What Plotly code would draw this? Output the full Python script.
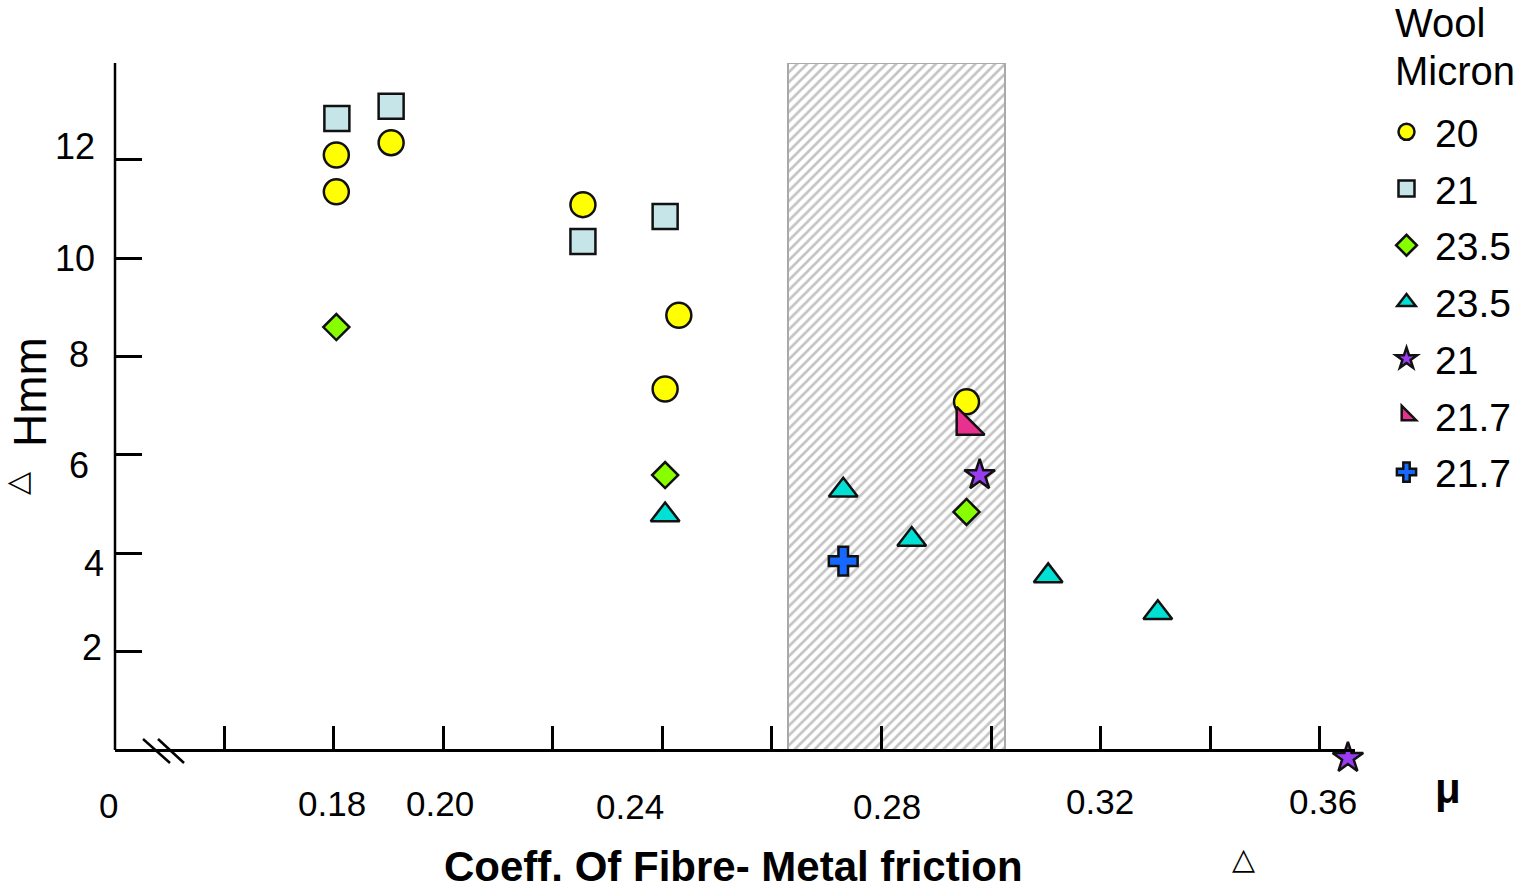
import plotly.graph_objects as go

W, H = 1517, 894

# ---------------- data ----------------
series_names = ["20", "21", "23.5", "23.5", "21", "21.7", "21.7"]

mic20_x = [0.1805, 0.1805, 0.1905, 0.2255, 0.2430, 0.2405, 0.2955]
mic20_y = [12.10, 11.35, 12.35, 11.09, 8.84, 7.34, 7.08]

mic21_sq_x = [0.1806, 0.1905, 0.2255, 0.2405]
mic21_sq_y = [12.84, 13.09, 10.34, 10.85]

mic235_dia_x = [0.1805, 0.2405, 0.2955]
mic235_dia_y = [8.60, 5.59, 4.84]

mic235_tri_x = [0.2405, 0.2730, 0.2855, 0.3104, 0.3304]
mic235_tri_y = [4.78, 5.28, 4.28, 3.54, 2.79]

mic21_star_x = [0.2979, 0.3651]
mic21_star_y = [5.59, -0.16]

mic217_rt_x = [0.2954]
mic217_rt_y = [6.60]

mic217_cross_x = [0.2730]
mic217_cross_y = [3.84]

band_x = [0.2629, 0.3025]      # shaded optimum range of mu
band_y_top = 13.97

x_range = [0.14011, 0.36639]
y_range = [-0.5, 13.97]
x_tick_vals = [0.16, 0.18, 0.20, 0.22, 0.24, 0.26, 0.28, 0.30, 0.32, 0.34, 0.36]
y_tick_vals = [2, 4, 6, 8, 10, 12]
x_tick_labels = ["0", "0.18", "0.20", "0.24", "0.28", "0.32", "0.36"]
y_tick_labels = ["12", "10", "8", "6", "4", "2"]

x_title = "Coeff. Of Fibre- Metal friction"
y_title = "Hmm"
legend_title_lines = ["Wool", "Micron"]

# ---------------- layout helpers ----------------
def px(x):
    return x / W


def py(y):
    return 1 - y / H


FONT = "Liberation Sans, Arial, sans-serif"
EDGE = "#111111"

# plot area in pixels: y=0 at 750, y=13.97 at 63
Y0_PX, YTOP_PX = 750, 63
px_per_unit = (Y0_PX - YTOP_PX) / band_y_top
y_dom_bottom_px = Y0_PX - y_range[0] * px_per_unit

fig = go.Figure()

# shaded band (hatched)
fig.add_trace(go.Bar(
    x=[(band_x[0] + band_x[1]) / 2], y=[band_y_top], base=0,
    width=[band_x[1] - band_x[0]],
    marker=dict(color="white", line=dict(color="#a9a9a9", width=2),
                pattern=dict(shape="/", fgcolor="#8a8a8a", bgcolor="white",
                             size=7, solidity=0.38)),
    showlegend=False, hoverinfo="skip",
))

specs = [
    (mic20_x, mic20_y, "circle", 25, "#ffff00"),
    (mic21_sq_x, mic21_sq_y, "square", 25, "#c6e5e8"),
    (mic235_dia_x, mic235_dia_y, "diamond", 20, "#88ff00"),
    (mic235_tri_x, mic235_tri_y, "triangle-up", 25, "#00e0d4"),
    (mic21_star_x, mic21_star_y, "star", 23, "#9a3cf0"),
    (mic217_rt_x, mic217_rt_y, "triangle-sw", 31, "#e8308e"),
    (mic217_cross_x, mic217_cross_y, "cross", 24, "#1668ff"),
]
for i, (xs, ys, sym, size, col) in enumerate(specs):
    fig.add_trace(go.Scatter(
        x=xs, y=ys, mode="markers", name=series_names[i],
        legendgroup=f"g{i}",
        marker=dict(symbol=sym, size=size, color=col,
                    line=dict(color=EDGE, width=2.5)),
        cliponaxis=False,
    ))

annotations = []
# x tick labels (placed as in the original artwork)
x_label_pos = [(108, 805), (332, 803), (440, 803), (630, 806), (887, 806), (1100, 801), (1323, 801)]
for t, (xx, yy) in zip(x_tick_labels, x_label_pos):
    annotations.append(dict(x=px(xx), y=py(yy), xref="paper", yref="paper", text=t,
                            showarrow=False, xanchor="center", yanchor="middle",
                            font=dict(family=FONT, size=35, color="black")))
# y tick labels
y_label_pos = [(97, 146), (97, 258), (91, 354), (91, 465), (106, 563), (104, 647)]
for t, (xx, yy) in zip(y_tick_labels, y_label_pos):
    annotations.append(dict(x=px(xx), y=py(yy), xref="paper", yref="paper", text=t,
                            showarrow=False, xanchor="right", yanchor="middle",
                            font=dict(family=FONT, size=36, color="black")))
# legend heading
for t, yy in zip(legend_title_lines, [23, 71]):
    annotations.append(dict(x=px(1393), y=py(yy), xref="paper", yref="paper", text=t,
                            showarrow=False, xanchor="left", yanchor="middle",
                            font=dict(family=FONT, size=40, color="black")))
# axis titles
annotations.append(dict(x=px(733), y=py(866), xref="paper", yref="paper", text=f"<b>{x_title}</b>",
                        showarrow=False, xanchor="center", yanchor="middle",
                        font=dict(family="Liberation Sans Narrow, Liberation Sans, Arial", size=42, color="black")))
annotations.append(dict(x=px(30), y=py(392), xref="paper", yref="paper", text=y_title,
                        showarrow=False, textangle=-90, xanchor="center", yanchor="middle",
                        font=dict(family=FONT, size=46, color="black")))
annotations.append(dict(x=px(16), y=py(483), xref="paper", yref="paper", text="△",
                        showarrow=False, textangle=-90, xanchor="center", yanchor="middle",
                        font=dict(family="DejaVu Sans", size=30, color="black")))
annotations.append(dict(x=px(1448), y=py(788), xref="paper", yref="paper", text="<b>μ</b>",
                        showarrow=False, xanchor="center", yanchor="middle",
                        font=dict(family=FONT, size=42, color="black")))
annotations.append(dict(x=px(1243), y=py(858), xref="paper", yref="paper", text="△",
                        showarrow=False, xanchor="center", yanchor="middle",
                        font=dict(family="DejaVu Sans", size=30, color="black")))

shapes = []
# y-axis line from 0 to the top of the scale
shapes.append(dict(type="line", xref="paper", yref="y", x0=px(115), x1=px(115),
                   y0=0, y1=band_y_top, line=dict(color="black", width=2.5)))
# axis-break marks
for (x0, y0, x1, y1) in [(143, 739, 170, 763), (158, 739, 184, 763)]:
    shapes.append(dict(type="line", xref="paper", yref="paper",
                       x0=px(x0), y0=py(y0), x1=px(x1), y1=py(y1),
                       line=dict(color="black", width=2.5)))

fig.update_layout(
    width=W, height=H,
    margin=dict(l=0, r=0, t=0, b=0, autoexpand=False),
    paper_bgcolor="white", plot_bgcolor="rgba(0,0,0,0)",
    showlegend=True,
    legend=dict(
        font=dict(family=FONT, size=39, color="black"),
        x=px(1378), xanchor="left", y=py(100), yanchor="top",
        bgcolor="rgba(0,0,0,0)", borderwidth=0,
        tracegroupgap=3, itemsizing="trace", itemwidth=47,
    ),
    xaxis=dict(domain=[px(115), px(1355)], range=x_range,
               anchor="free", position=py(Y0_PX),
               showline=True, linecolor="black", linewidth=2.5,
               ticks="inside", ticklen=23, tickwidth=3, tickcolor="black",
               tickvals=x_tick_vals, showticklabels=False,
               showgrid=False, zeroline=False, fixedrange=True),
    yaxis=dict(domain=[py(y_dom_bottom_px), py(YTOP_PX)], range=y_range,
               showline=False,
               ticks="inside", ticklen=27, tickwidth=2.5, tickcolor="black",
               tickvals=y_tick_vals, showticklabels=False,
               showgrid=False, zeroline=False, fixedrange=True),
    annotations=annotations,
    shapes=shapes,
    bargap=0,
)

fig.write_html("out.html", config={"displayModeBar": False},
               post_script="document.body.style.margin='0px';")
